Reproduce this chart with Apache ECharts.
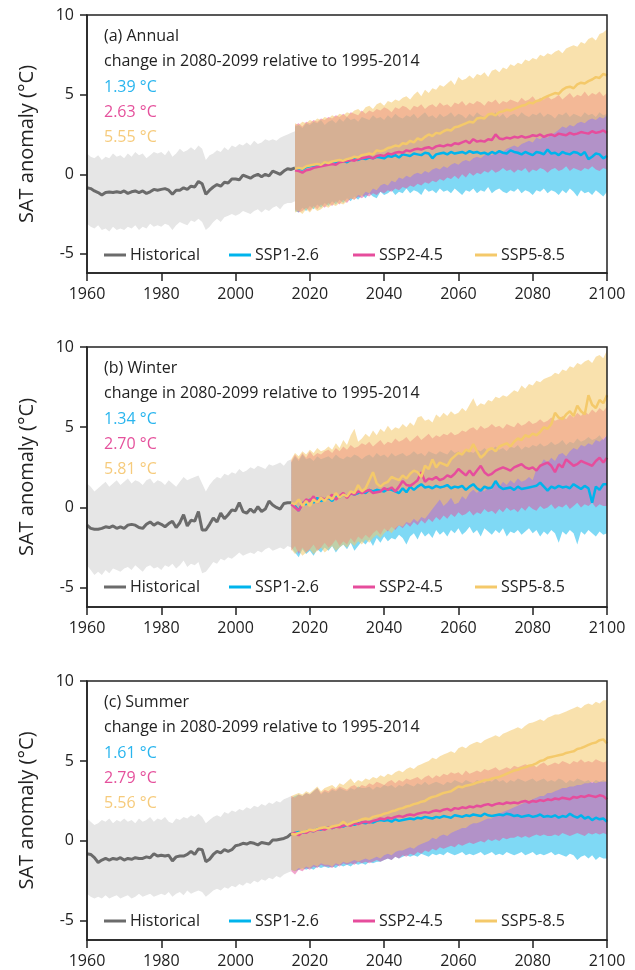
<!DOCTYPE html>
<html><head><meta charset="utf-8">
<script src="https://cdn.jsdelivr.net/npm/echarts@6/dist/echarts.min.js"></script>
<style>html,body{margin:0;padding:0;background:#fff}#c{width:635px;height:970px}</style>
</head><body><div id="c"></div><script>
// ---------- Panel (a) Annual ----------
const histStartA = 1960, sspStartA = 2016;
const histMeanA = [-0.85,-0.9,-1.05,-1.15,-1.3,-1.15,-1.12,-1.15,-1.1,-1.15,
-1.05,-1.2,-1.1,-1.05,-1.15,-1.05,-1.2,-1.1,-0.95,-1.0,
-0.95,-0.9,-1.0,-1.25,-1.0,-1.0,-0.85,-0.95,-0.75,-0.8,
-0.45,-0.6,-1.25,-1.0,-0.8,-0.65,-0.75,-0.5,-0.55,-0.3,
-0.3,-0.35,-0.05,-0.15,-0.25,-0.1,0.0,-0.15,0.0,-0.1,
0.2,0.1,0.0,0.2,0.35,0.3,0.4];
const histUpA = [1.3,1.1,1.0,1.2,0.9,1.1,1.0,1.3,1.1,1.2,
1.0,1.3,1.1,1.4,1.2,1.3,1.0,1.2,1.4,1.3,
1.4,1.2,1.5,1.1,1.3,1.6,1.4,1.5,1.7,1.5,
1.8,1.6,0.9,1.2,1.3,1.5,1.4,1.7,1.5,1.8,
1.7,1.9,1.8,2.0,1.8,2.1,1.9,2.0,2.2,2.1,
2.2,2.1,2.3,2.4,2.5,2.6,2.7];
const histLoA = [-3.1,-3.3,-3.4,-3.2,-3.5,-3.4,-3.6,-3.3,-3.5,-3.4,
-3.5,-3.3,-3.4,-3.2,-3.5,-3.3,-3.4,-3.1,-3.3,-3.2,
-3.3,-3.1,-3.2,-3.5,-3.2,-3.0,-3.1,-3.2,-2.9,-3.0,
-2.8,-3.0,-3.5,-3.3,-3.0,-2.8,-3.0,-2.7,-2.6,-2.5,
-2.6,-2.5,-2.3,-2.4,-2.5,-2.3,-2.2,-2.4,-2.2,-2.3,
-2.1,-2.0,-2.2,-1.9,-1.8,-1.8,-1.7];
const ssp126A = [0.3,0.35,0.3,0.45,0.5,0.55,0.5,0.6,0.7,0.65,
0.75,0.7,0.8,0.85,0.75,0.9,0.95,0.9,1.0,0.95,
1.05,1.0,1.1,1.05,1.0,1.15,1.1,1.2,1.05,1.25,
1.2,1.15,1.3,1.25,1.2,1.35,1.3,1.0,1.25,1.3,
1.35,1.25,1.4,1.3,1.35,1.4,1.3,1.45,1.35,1.4,
1.3,1.35,1.25,1.4,1.3,1.45,1.35,1.3,1.5,1.4,
1.35,1.25,1.4,1.3,1.2,1.4,1.35,1.25,1.55,1.3,
1.35,1.2,1.4,1.3,1.25,1.4,1.35,1.2,1.4,0.95,
1.1,1.3,1.25,1.0,1.15];
const ssp245A = [0.25,0.2,0.1,0.25,0.3,0.4,0.45,0.5,0.55,0.6,
0.65,0.6,0.75,0.8,0.85,0.9,0.85,0.95,1.0,1.05,
1.1,1.0,1.15,1.2,1.15,1.3,1.25,1.35,1.4,1.35,
1.5,1.45,1.55,1.6,1.55,1.65,1.7,1.6,1.75,1.8,
1.75,1.85,1.8,1.95,1.9,2.0,2.1,1.95,2.2,2.05,
2.1,2.05,2.2,2.15,2.5,2.25,2.2,2.3,2.25,2.35,
2.3,2.4,2.3,2.35,2.45,2.4,2.5,2.35,2.45,2.5,
2.4,2.55,2.5,2.45,2.6,2.5,2.55,2.65,2.6,2.55,
2.7,2.6,2.65,2.75,2.6];
const ssp585A = [0.35,0.4,0.35,0.5,0.55,0.6,0.65,0.6,0.75,0.7,
0.8,0.85,0.9,0.85,0.95,1.0,1.1,1.05,1.2,1.25,
1.3,1.25,1.5,1.45,1.5,1.65,1.7,1.8,1.75,1.95,
1.9,2.1,2.0,2.25,2.15,2.35,2.5,2.4,2.6,2.55,
2.7,2.8,2.75,2.95,3.0,3.1,3.2,3.3,3.25,3.5,
3.55,3.5,3.75,3.8,3.7,3.9,3.95,4.05,4.0,4.1,
4.2,4.3,4.35,4.5,4.45,4.6,4.65,4.8,4.9,5.0,
5.1,5.05,5.3,5.45,5.5,5.4,5.65,5.75,5.7,5.85,
5.95,6.1,6.05,6.3,6.2];
const ssp126HiA = [3.0,3.1,2.9,3.2,3.1,3.3,3.2,3.4,3.1,3.3,
3.4,3.2,3.5,3.3,3.6,3.4,3.5,3.3,3.6,3.5,
3.4,3.7,3.5,3.6,3.4,3.7,3.5,3.8,3.6,3.5,
3.7,3.6,3.8,3.5,3.7,3.9,3.6,3.7,3.5,3.8,
3.6,3.7,3.9,3.6,3.8,3.7,3.5,3.8,3.6,3.9,
3.7,3.6,3.8,3.7,3.9,3.6,3.8,3.5,3.7,3.8,
3.6,3.9,3.7,3.6,3.8,3.7,3.9,3.6,3.8,3.7,
3.5,3.8,3.7,3.9,3.6,3.8,3.7,3.6,3.9,3.7,
3.8,3.6,3.9,3.7,3.8];
const ssp126LoA = [-2.3,-2.4,-2.1,-2.3,-2.0,-2.2,-1.9,-2.1,-1.8,-2.0,
-1.7,-1.9,-1.6,-1.8,-1.5,-1.7,-1.4,-1.6,-1.3,-1.5,
-1.2,-1.4,-1.5,-1.1,-1.3,-1.2,-1.0,-1.3,-1.1,-1.2,
-0.9,-1.2,-1.0,-1.1,-1.3,-0.9,-1.1,-1.0,-1.2,-0.9,
-1.1,-1.0,-1.2,-0.9,-1.1,-1.3,-1.0,-1.1,-0.9,-1.2,
-1.0,-1.1,-0.8,-1.2,-1.0,-0.9,-1.1,-1.2,-1.0,-1.1,
-0.9,-1.2,-1.0,-1.1,-1.3,-1.0,-1.1,-0.9,-1.2,-1.0,
-1.1,-1.3,-1.0,-1.2,-0.9,-1.1,-1.4,-1.0,-1.2,-1.1,
-1.3,-1.0,-1.2,-1.4,-1.1];
const ssp245HiA = [3.1,3.2,3.0,3.3,3.2,3.4,3.3,3.5,3.4,3.6,
3.5,3.7,3.6,3.8,3.6,3.9,3.8,3.7,4.0,3.8,
4.0,3.9,4.1,4.0,4.2,4.1,3.9,4.2,4.1,4.3,
4.2,4.0,4.3,4.2,4.4,4.1,4.3,4.4,4.2,4.5,
4.3,4.4,4.2,4.5,4.4,4.6,4.3,4.5,4.4,4.6,
4.5,4.3,4.6,4.5,4.7,4.4,4.6,4.5,4.7,4.6,
4.5,4.8,4.6,4.7,4.9,4.6,4.8,4.7,4.9,4.7,
4.8,5.0,4.7,4.9,5.1,4.8,5.0,4.9,5.2,4.9,
5.1,5.0,5.2,4.9,5.1];
const ssp245LoA = [-2.2,-2.4,-2.3,-2.1,-2.3,-2.0,-2.2,-1.9,-2.1,-1.8,
-2.0,-1.7,-1.9,-1.6,-1.8,-1.5,-1.6,-1.4,-1.5,-1.3,
-1.4,-1.2,-1.3,-1.1,-1.2,-1.0,-1.1,-0.9,-1.0,-0.8,
-0.9,-0.7,-0.8,-0.6,-0.7,-0.5,-0.6,-0.4,-0.5,-0.3,
-0.4,-0.2,-0.3,-0.1,-0.3,0.0,-0.2,0.1,-0.1,0.1,
0.0,0.2,0.1,0.3,0.1,0.2,0.4,0.2,0.3,0.1,
0.3,0.2,0.4,0.1,0.3,0.2,0.4,0.3,0.1,0.3,
0.4,0.2,0.3,0.5,0.2,0.4,0.3,0.2,0.4,0.3,
0.5,0.3,0.2,0.4,0.3];
const ssp585HiA = [3.2,3.1,3.3,3.2,3.4,3.3,3.5,3.4,3.6,3.5,
3.7,3.6,3.8,3.7,3.9,3.8,4.0,4.1,3.9,4.2,
4.3,4.1,4.4,4.5,4.3,4.6,4.5,4.7,4.6,4.8,
4.9,4.7,5.0,5.2,4.9,5.3,5.1,5.4,5.3,5.6,
5.5,5.7,5.9,5.6,6.1,5.9,6.0,6.2,6.0,6.3,
6.2,6.4,6.1,6.5,6.6,6.4,6.7,6.6,6.9,6.8,
7.0,6.9,7.2,7.1,7.3,7.2,7.5,7.4,7.6,7.5,
7.7,7.8,7.6,7.9,8.0,8.1,8.0,8.3,8.2,8.5,
8.6,8.4,8.8,8.9,9.1];
const ssp585LoA = [-2.4,-2.3,-2.5,-2.2,-2.4,-2.1,-2.3,-2.2,-2.0,-2.1,
-1.9,-2.0,-1.8,-1.9,-1.7,-1.5,-1.6,-1.3,-1.4,-1.1,
-1.2,-0.9,-1.0,-0.7,-0.6,-0.7,-0.4,-0.5,-0.2,-0.3,
-0.1,-0.2,0.0,0.1,0.0,0.2,0.1,0.3,0.4,0.3,
0.5,0.4,0.6,0.7,0.6,0.8,0.9,0.8,1.0,1.1,
1.0,1.2,1.3,1.2,1.4,1.5,1.4,1.6,1.7,1.8,
1.7,1.9,2.0,2.1,2.0,2.3,2.2,2.4,2.3,2.5,
2.6,2.8,3.0,2.9,3.1,3.0,3.2,3.3,3.2,3.4,
3.5,3.4,3.6,3.5,3.7];

// ---------- Panel (b) Winter ----------
const histStartB = 1960, sspStartB = 2015;
const histMeanB = [-1.1,-1.3,-1.35,-1.35,-1.3,-1.2,-1.25,-1.15,-1.3,-1.2,
-1.3,-1.1,-1.05,-1.1,-1.25,-1.3,-1.05,-0.9,-1.1,-0.95,
-1.05,-1.2,-1.0,-0.85,-1.25,-0.95,-0.45,-1.15,-0.8,-0.85,
-0.25,-1.4,-1.4,-1.05,-0.65,-0.9,-0.35,-0.7,-0.45,-0.15,
-0.2,0.3,-0.25,-0.35,-0.1,-0.3,0.05,-0.25,-0.1,0.4,
0.15,0.0,-0.1,0.25,0.3,0.3];
const histUpB = [1.5,1.3,1.0,1.2,1.4,1.6,1.3,1.5,1.7,1.4,
1.6,1.8,1.5,1.7,1.6,1.4,1.7,1.8,1.5,1.7,
1.6,1.4,1.7,1.5,1.3,1.6,1.9,1.7,1.8,1.9,
2.0,1.5,1.0,1.4,1.7,1.9,1.8,2.1,2.0,2.2,
2.1,2.4,2.2,2.3,2.5,2.4,2.6,2.5,2.4,2.7,
2.6,2.7,2.8,2.6,2.9,3.0];
const histLoB = [-3.6,-3.9,-4.2,-4.0,-4.2,-3.9,-4.1,-3.8,-3.9,-4.0,
-3.8,-3.7,-3.9,-3.6,-3.8,-4.0,-3.7,-3.6,-3.8,-3.7,
-3.9,-3.6,-3.7,-3.5,-3.8,-3.6,-3.3,-3.7,-3.5,-3.6,
-3.4,-4.1,-4.0,-3.7,-3.4,-3.5,-3.2,-3.3,-3.1,-3.2,
-3.0,-2.8,-3.0,-2.9,-2.8,-2.9,-2.7,-2.8,-2.6,-2.5,
-2.7,-2.6,-2.5,-2.6,-2.4,-2.5];
const ssp126B = [0.3,0.1,-0.2,0.3,0.2,0.5,0.3,0.6,0.4,0.5,
0.6,0.4,0.7,0.6,0.8,0.7,0.9,0.8,0.9,1.0,
0.9,1.1,1.0,1.1,1.05,1.0,1.15,1.1,1.0,0.9,
1.2,0.95,1.3,1.1,1.3,1.45,1.25,1.3,1.2,1.35,
1.25,1.3,1.4,1.2,1.3,1.25,1.35,1.1,1.3,1.45,
1.2,1.05,1.3,1.2,1.25,1.65,1.3,1.15,1.2,1.25,
1.1,1.3,1.15,1.2,1.25,1.3,1.35,1.55,1.3,1.05,
1.3,1.2,1.35,1.25,1.3,1.2,1.45,1.3,1.15,1.35,
1.2,0.3,1.3,1.1,1.45,1.45];
const ssp245B = [0.2,0.0,-0.2,0.2,0.5,0.4,0.7,0.3,0.6,0.5,
0.6,0.8,0.5,0.7,0.9,0.6,0.9,0.8,1.0,0.9,
1.0,1.1,0.9,0.95,1.0,1.2,1.1,1.25,1.0,1.3,
1.65,1.4,1.35,1.5,1.7,2.2,1.6,1.8,1.75,1.9,
1.7,1.8,2.0,1.9,2.1,2.4,2.2,2.0,2.3,2.0,
2.3,2.6,2.2,2.0,2.1,2.3,2.4,2.5,2.4,2.3,
2.5,2.6,2.7,2.5,2.4,2.5,2.3,2.6,2.7,2.8,
2.6,2.2,2.7,2.5,3.0,2.8,2.6,2.7,2.9,2.8,
2.7,2.6,2.9,3.1,2.8,3.1];
const ssp585B = [0.3,0.2,0.5,0.1,0.4,0.1,0.5,0.3,0.6,0.4,
0.7,0.5,0.9,0.6,0.8,0.7,1.0,0.9,1.4,1.0,
1.2,1.7,2.2,1.5,1.3,1.5,1.6,1.9,1.8,1.7,
2.0,1.8,2.1,2.3,2.2,1.9,2.6,2.4,3.0,2.5,
2.8,2.7,2.6,3.0,3.2,3.4,3.3,3.6,3.5,3.95,
3.5,3.1,3.3,3.6,3.7,3.5,3.8,3.9,4.0,3.8,
4.1,4.3,4.2,4.5,4.4,4.6,4.5,4.7,5.0,4.9,
5.2,5.9,5.6,5.5,5.8,6.0,5.7,6.35,6.0,5.8,
7.0,6.4,6.2,6.7,6.5,7.0];
const ssp126HiB = [2.8,3.2,2.9,3.3,3.0,3.1,2.9,3.2,3.0,3.1,
3.2,3.0,3.3,3.1,3.0,3.2,3.1,3.3,3.2,3.0,
3.2,3.3,3.1,3.4,3.2,3.3,3.1,3.4,3.2,3.3,
3.4,3.2,3.3,3.5,3.3,3.4,3.2,3.5,3.4,3.3,
3.5,3.4,3.3,3.6,3.4,3.5,3.3,3.6,3.5,3.4,
3.6,3.5,3.7,3.5,3.6,3.8,3.6,3.7,3.5,3.8,
3.7,3.9,3.6,3.8,3.7,3.9,3.8,4.0,3.8,3.9,
4.1,3.9,4.0,4.2,3.9,4.1,4.0,4.3,4.1,4.2,
4.4,4.2,4.3,4.5,4.2,4.5];
const ssp126LoB = [-2.5,-2.8,-3.1,-2.6,-2.9,-2.7,-3.0,-2.6,-2.8,-2.5,
-2.7,-2.4,-2.8,-2.5,-2.3,-2.6,-2.2,-2.7,-2.4,-2.1,
-2.3,-2.0,-2.4,-1.9,-2.2,-1.8,-2.1,-1.9,-2.0,-1.7,
-1.9,-2.3,-1.8,-1.6,-2.0,-1.5,-1.8,-1.6,-1.9,-1.4,
-1.7,-1.5,-1.8,-1.4,-1.6,-1.3,-1.7,-1.5,-1.2,-1.6,
-1.4,-1.8,-1.3,-1.5,-1.7,-1.4,-1.6,-1.3,-1.8,-1.5,
-1.6,-1.4,-1.7,-1.5,-1.3,-1.6,-1.4,-1.8,-1.5,-1.7,
-1.4,-1.6,-2.2,-1.5,-1.7,-1.4,-1.6,-2.3,-1.5,-1.7,
-1.4,-1.6,-1.8,-1.5,-1.7,-1.6];
const ssp245HiB = [2.9,3.3,3.0,3.4,3.1,3.5,3.2,3.4,3.3,3.5,
3.6,3.4,3.7,3.5,3.8,3.6,3.9,3.7,3.8,4.0,
3.9,4.1,3.8,4.0,4.2,3.9,4.1,4.0,4.3,4.1,
4.2,4.4,4.1,4.3,4.5,4.2,4.4,4.6,4.3,4.5,
4.4,4.6,4.5,4.7,4.5,4.6,4.8,4.7,4.9,5.0,
4.8,5.1,4.9,5.0,5.2,5.0,5.1,4.9,5.2,5.1,
5.0,5.3,5.1,5.2,5.4,5.2,5.3,5.5,5.3,5.4,
5.6,5.4,5.5,5.7,5.5,5.8,5.6,5.9,5.7,6.0,
5.8,6.1,5.9,6.2,6.0,6.3];
const ssp245LoB = [-2.7,-2.4,-2.9,-2.5,-2.8,-2.6,-2.3,-2.7,-2.5,-2.2,
-2.5,-2.3,-2.0,-2.4,-2.1,-2.3,-1.9,-2.2,-1.8,-2.0,
-1.7,-1.9,-1.6,-1.4,-1.7,-1.3,-1.5,-1.2,-1.4,-1.1,
-1.3,-1.0,-1.2,-0.9,-1.1,-0.8,-1.0,-0.7,-0.9,-0.6,
-0.8,-0.5,-0.7,-0.4,-0.6,-0.3,-0.5,-0.4,-0.2,-0.5,
-0.3,-0.4,-0.1,-0.3,-0.2,-0.4,-0.1,-0.3,0.0,-0.2,
-0.1,-0.3,0.0,-0.2,0.1,-0.1,-0.2,0.1,-0.1,0.0,
0.2,-0.1,0.1,0.0,0.2,-0.1,0.1,0.3,0.0,0.2,
0.1,0.3,0.0,0.2,0.1,0.1];
const ssp585HiB = [3.0,3.4,3.2,3.5,3.3,3.6,3.4,3.7,3.5,3.6,
3.8,3.6,4.0,3.7,4.2,3.9,4.5,4.9,4.1,4.3,
4.6,4.4,4.8,4.5,4.9,4.7,5.1,4.8,5.0,4.9,
5.2,5.0,5.3,5.1,5.6,5.7,5.4,5.5,5.3,5.8,
5.6,5.9,5.7,6.0,5.8,5.9,6.2,6.0,6.4,6.8,
6.3,6.5,6.4,6.7,6.6,6.9,6.8,7.0,6.9,7.1,
7.3,7.2,7.6,7.4,7.7,7.6,7.9,7.8,8.0,8.1,
8.2,8.4,8.3,8.6,8.5,8.8,8.7,9.0,8.9,9.1,
9.2,9.0,9.4,9.5,9.3,9.8];
const ssp585LoB = [-2.6,-2.9,-2.7,-3.0,-2.8,-2.6,-2.9,-2.7,-2.5,-2.8,
-2.6,-2.4,-2.7,-2.5,-2.3,-2.5,-2.2,-2.4,-2.1,-2.3,
-2.0,-2.2,-1.9,-1.7,-1.9,-1.6,-1.4,-1.6,-1.3,-1.1,
-1.2,-0.9,-1.0,-0.7,-0.9,-0.6,-0.7,-0.4,-0.1,0.2,
0.5,0.1,0.3,0.6,0.2,0.3,0.7,0.5,0.9,1.1,
0.9,1.2,1.0,1.3,1.1,1.5,1.3,1.6,1.4,1.7,
1.5,1.8,1.6,1.7,1.9,1.7,2.4,2.6,3.0,2.8,
3.1,2.9,3.3,3.4,3.2,3.5,3.7,3.6,3.9,3.8,
4.0,3.9,4.2,4.1,4.3,4.5];

// ---------- Panel (c) Summer ----------
const histStartC = 1960, sspStartC = 2015;
const histMeanC = [-0.8,-0.85,-1.05,-1.35,-1.2,-1.1,-1.2,-1.1,-1.15,-1.05,
-1.2,-1.1,-1.15,-1.05,-1.1,-1.1,-1.0,-1.05,-0.8,-0.95,
-0.9,-0.95,-0.9,-1.25,-1.0,-0.95,-0.95,-0.85,-0.65,-0.85,
-0.5,-0.55,-1.3,-1.15,-0.85,-0.65,-0.75,-0.55,-0.65,-0.55,
-0.3,-0.25,-0.15,-0.2,-0.1,-0.15,-0.25,-0.1,-0.15,-0.2,
0.05,0.05,0.1,0.15,0.25,0.45];
const histUpC = [1.4,1.2,1.0,1.1,1.3,1.2,1.4,1.1,1.3,1.2,
1.4,1.2,1.3,1.1,1.4,1.2,1.3,1.5,1.2,1.4,
1.3,1.5,1.2,1.1,1.4,1.3,1.5,1.4,1.6,1.5,
1.7,1.5,1.1,1.3,1.5,1.6,1.5,1.8,1.7,1.9,
1.8,2.0,1.9,2.1,2.0,2.2,2.1,2.3,2.2,2.4,
2.3,2.5,2.4,2.6,2.7,2.8];
const histLoC = [-3.3,-3.5,-3.6,-3.5,-3.6,-3.4,-3.6,-3.5,-3.4,-3.6,
-3.5,-3.4,-3.6,-3.5,-3.3,-3.5,-3.4,-3.3,-3.5,-3.4,
-3.3,-3.4,-3.2,-3.5,-3.3,-3.2,-3.4,-3.1,-3.3,-3.2,
-3.1,-3.2,-3.5,-3.3,-3.1,-3.0,-3.1,-2.9,-3.0,-2.8,
-2.9,-2.7,-2.8,-2.6,-2.7,-2.5,-2.6,-2.4,-2.5,-2.3,
-2.4,-2.2,-2.3,-2.1,-2.0,-1.9];
const ssp126C = [0.45,0.5,0.55,0.5,0.6,0.65,0.6,0.75,0.7,0.8,
0.85,0.8,0.9,0.95,0.9,1.0,1.05,1.0,1.1,1.15,
1.1,1.2,1.15,1.25,1.3,1.25,1.3,1.2,1.35,1.25,
1.3,1.35,1.4,1.35,1.45,1.4,1.5,1.45,1.4,1.5,
1.45,1.55,1.5,1.45,1.6,1.55,1.5,1.6,1.55,1.65,
1.6,1.55,1.7,1.6,1.55,1.6,1.65,1.6,1.7,1.65,
1.55,1.6,1.5,1.55,1.6,1.5,1.55,1.65,1.5,1.55,
1.5,1.6,1.45,1.55,1.5,1.7,1.55,1.45,1.6,1.4,
1.5,1.3,1.45,1.35,1.4,1.2];
const ssp245C = [0.45,0.5,0.35,0.55,0.5,0.65,0.6,0.7,0.75,0.7,
0.85,0.8,0.9,0.85,0.95,1.0,0.95,1.1,1.05,1.15,
1.2,1.15,1.25,1.3,1.4,1.35,1.45,1.4,1.5,1.55,
1.5,1.6,1.65,1.6,1.7,1.75,1.8,1.75,1.85,1.9,
1.85,1.95,2.0,1.9,2.05,2.0,2.1,2.05,2.15,2.1,
2.2,2.15,2.25,2.3,2.2,2.3,2.35,2.3,2.4,2.35,
2.4,2.35,2.45,2.5,2.4,2.5,2.45,2.55,2.5,2.6,
2.55,2.65,2.6,2.7,2.65,2.6,2.75,2.7,2.8,2.75,
2.85,2.8,2.75,2.85,2.8,2.6];
const ssp585C = [0.45,0.4,0.5,0.55,0.6,0.7,0.65,0.75,0.8,0.85,
0.8,0.9,0.95,1.0,1.2,1.0,1.1,1.2,1.25,1.35,
1.4,1.35,1.5,1.55,1.6,1.7,1.75,1.85,1.9,2.0,
2.05,2.15,2.2,2.3,2.35,2.45,2.5,2.65,2.75,2.8,
2.9,3.0,3.05,3.1,3.25,3.4,3.35,3.45,3.5,3.55,
3.65,3.7,3.8,3.8,3.9,3.95,4.0,4.1,4.2,4.3,
4.4,4.45,4.55,4.6,4.7,4.75,4.85,5.0,5.05,5.2,
5.25,5.3,5.35,5.4,5.5,5.55,5.6,5.75,5.8,5.9,
6.0,6.1,6.15,6.3,6.35,6.1];
const ssp126HiC = [2.7,2.8,2.9,2.8,3.0,2.9,3.1,3.3,2.9,3.1,
3.0,3.2,3.1,3.3,3.2,3.1,3.3,3.2,3.4,3.3,
3.3,3.4,3.2,3.4,3.3,3.5,3.4,3.5,3.3,3.5,
3.4,3.6,3.5,3.4,3.6,3.5,3.7,3.5,3.6,3.7,
3.6,3.5,3.7,3.6,3.8,3.7,3.6,3.8,3.7,3.6,
3.8,3.7,3.6,3.8,3.7,3.9,3.7,3.8,3.6,3.8,
3.7,3.9,3.8,3.7,3.8,3.9,3.7,3.8,3.9,3.7,
3.8,3.7,3.9,3.8,3.6,3.8,3.7,3.9,3.8,3.7,
3.8,3.6,3.8,3.7,3.8,3.7];
const ssp126LoC = [-1.8,-1.9,-1.8,-1.7,-1.8,-1.7,-1.8,-1.6,-1.7,-1.6,
-1.7,-1.6,-1.7,-1.5,-1.6,-1.5,-1.6,-1.4,-1.5,-1.4,
-1.5,-1.3,-1.4,-1.3,-1.3,-1.2,-1.1,-1.2,-1.0,-1.1,
-1.0,-0.9,-1.0,-0.9,-1.0,-0.8,-0.9,-1.0,-0.8,-0.9,
-0.8,-0.9,-0.7,-0.8,-0.9,-0.8,-0.7,-0.9,-0.8,-0.9,
-0.8,-0.7,-0.9,-0.8,-0.7,-0.9,-0.8,-0.9,-0.7,-0.8,
-0.9,-0.8,-0.7,-0.9,-0.8,-0.7,-0.9,-0.8,-0.9,-0.8,
-0.7,-0.9,-0.8,-0.9,-1.0,-0.8,-0.9,-1.2,-1.0,-0.9,
-1.1,-0.9,-1.2,-1.0,-1.1,-1.1];
const ssp245HiC = [2.8,2.7,2.9,2.8,3.0,2.9,3.1,3.3,3.0,3.2,
3.1,3.3,3.2,3.4,3.3,3.2,3.4,3.5,3.3,3.5,
3.4,3.6,3.5,3.7,3.6,3.5,3.7,3.8,3.6,3.8,
3.7,3.9,3.8,3.9,4.0,3.8,4.0,4.1,3.9,4.1,
4.0,4.2,4.1,4.3,4.2,4.3,4.1,4.4,4.2,4.3,
4.4,4.3,4.5,4.4,4.5,4.6,4.4,4.5,4.6,4.5,
4.7,4.6,4.7,4.8,4.7,4.8,4.6,4.8,4.9,4.7,
4.8,4.9,4.8,5.0,4.9,4.8,5.0,4.9,5.1,4.9,
5.0,4.9,5.1,5.0,4.9,5.0];
const ssp245LoC = [-1.9,-2.1,-1.8,-1.9,-1.7,-1.8,-1.6,-1.7,-1.5,-1.6,
-1.6,-1.7,-1.5,-1.6,-1.4,-1.5,-1.4,-1.5,-1.3,-1.4,
-1.3,-1.4,-1.3,-1.2,-1.3,-1.2,-1.1,-1.2,-1.0,-1.1,
-0.9,-1.0,-0.8,-0.9,-0.7,-0.8,-0.6,-0.7,-0.5,-0.6,
-0.4,-0.5,-0.4,-0.3,-0.4,-0.2,-0.3,-0.2,-0.1,-0.2,
-0.1,0.0,-0.1,0.1,0.0,0.1,0.0,0.2,0.1,0.2,
0.2,0.3,0.2,0.3,0.2,0.3,0.4,0.3,0.4,0.3,
0.3,0.4,0.3,0.5,0.4,0.3,0.4,0.5,0.4,0.3,
0.5,0.4,0.5,0.4,0.5,0.4];
const ssp585HiC = [2.8,2.9,3.0,2.9,3.1,3.0,3.2,3.4,3.1,3.3,
3.4,3.5,3.3,3.6,3.5,3.7,3.9,3.6,3.8,3.7,
3.9,3.8,4.0,3.9,4.1,4.0,4.2,4.1,4.3,4.4,
4.3,4.5,4.6,4.5,4.7,4.8,4.9,5.0,5.2,5.1,
5.3,5.4,5.5,5.6,5.5,5.8,5.9,5.8,6.0,6.1,
6.2,6.1,6.3,6.4,6.5,6.6,6.5,6.7,6.8,6.9,
7.0,7.1,7.0,7.2,7.35,7.4,7.5,7.6,7.5,7.7,
7.8,7.9,7.9,8.0,8.1,8.2,8.3,8.4,8.3,8.5,
8.6,8.5,8.7,8.6,8.8,8.8];
const ssp585LoC = [-1.8,-1.9,-1.7,-1.8,-1.6,-1.7,-1.5,-1.6,-1.4,-1.5,
-1.5,-1.6,-1.4,-1.5,-1.3,-1.4,-1.3,-1.2,-1.3,-1.2,
-1.1,-1.2,-1.1,-1.0,-1.1,-0.9,-0.8,-0.9,-0.7,-0.6,
-0.6,-0.5,-0.4,-0.5,-0.3,-0.2,-0.1,0.0,0.2,0.1,
0.3,0.4,0.3,0.5,0.6,0.7,0.8,0.8,1.0,1.1,
1.1,1.2,1.3,1.4,1.4,1.6,1.7,1.8,1.9,2.0,
2.1,2.2,2.3,2.4,2.5,2.6,2.7,2.8,2.8,3.0,
3.0,3.1,3.2,3.3,3.3,3.4,3.4,3.5,3.5,3.6,
3.6,3.7,3.6,3.7,3.7,3.7];

// ---------- labels ----------
const panelTitles = ['(a) Annual', '(b) Winter', '(c) Summer'];
const subtitle = 'change in 2080-2099 relative to 1995-2014';
const changeLabelsA = ['1.39 °C', '2.63 °C', '5.55 °C'];
const changeLabelsB = ['1.34 °C', '2.70 °C', '5.81 °C'];
const changeLabelsC = ['1.61 °C', '2.79 °C', '5.56 °C'];
const seriesNames = ['Historical', 'SSP1-2.6', 'SSP2-4.5', 'SSP5-8.5'];
const yTickValues = [-5, 0, 5, 10];
const yAxisTitle = 'SAT anomaly (°C)';

// ---------- styling ----------
const FONT = '"Open Sans", "Noto Sans", sans-serif';
const INK = '#222222';
const lineColors = ['#6b6b6b', '#00b4ec', '#e64d9c', '#f4c96a'];
const bandFills = ['#e6e6e6', 'rgba(0,180,236,0.5)', 'rgba(229,76,156,0.5)', 'rgba(244,201,106,0.55)'];
const textColors = ['#29b5ee', '#e5519c', '#f6cb7c'];
const gridTops = [15, 347, 681];
const gridHeights = [258, 260, 259];
const legendXs = [104, 229, 353, 475];

const panels = [
  {hs: histStartA, ss: sspStartA, hm: histMeanA, hu: histUpA, hl: histLoA,
   m: [ssp126A, ssp245A, ssp585A], lo: [ssp126LoA, ssp245LoA, ssp585LoA], hi: [ssp126HiA, ssp245HiA, ssp585HiA], labels: changeLabelsA},
  {hs: histStartB, ss: sspStartB, hm: histMeanB, hu: histUpB, hl: histLoB,
   m: [ssp126B, ssp245B, ssp585B], lo: [ssp126LoB, ssp245LoB, ssp585LoB], hi: [ssp126HiB, ssp245HiB, ssp585HiB], labels: changeLabelsB},
  {hs: histStartC, ss: sspStartC, hm: histMeanC, hu: histUpC, hl: histLoC,
   m: [ssp126C, ssp245C, ssp585C], lo: [ssp126LoC, ssp245LoC, ssp585LoC], hi: [ssp126HiC, ssp245HiC, ssp585HiC], labels: changeLabelsC}
];

function pairs(start, vals) { return vals.map((v, i) => [start + i, v]); }
function bandData(start, lo, hi) { return lo.map((v, i) => [start + i, v, hi[i]]); }

function bandSeries(gi, start, lo, hi, fill, id) {
  const data = bandData(start, lo, hi);
  return {
    type: 'custom', id: id, name: id, xAxisIndex: gi, yAxisIndex: gi, silent: true,
    data: data, encode: {x: 0, y: [1, 2]},
    renderItem: function (params, api) {
      if (params.dataIndex !== 0) return null;
      const top = data.map(d => api.coord([d[0], d[2]]));
      const bot = data.map(d => api.coord([d[0], d[1]])).reverse();
      return {type: 'polygon', shape: {points: top.concat(bot)}, style: {fill: fill}};
    }
  };
}

const grids = [], xAxes = [], yAxes = [], series = [], legends = [], graphics = [];
panels.forEach((p, gi) => {
  grids.push({left: 87, width: 520, top: gridTops[gi], height: gridHeights[gi],
    show: true, borderColor: INK, borderWidth: 1.5, backgroundColor: 'transparent', z: 10});
  xAxes.push({gridIndex: gi, type: 'value', min: 1960, max: 2100, interval: 20, z: 10,
    axisLine: {show: true, onZero: false, lineStyle: {color: INK, width: 1.5}},
    axisTick: {show: true, length: 8, lineStyle: {color: INK, width: 1.5}},
    axisLabel: {fontSize: 16, color: INK, fontFamily: FONT, margin: 13, formatter: v => String(v)},
    splitLine: {show: false}});
  yAxes.push({gridIndex: gi, type: 'value', min: -6.2, max: 10, z: 10,
    name: yAxisTitle, nameLocation: 'middle', nameGap: 50,
    nameTextStyle: {fontSize: 20, color: INK, fontFamily: FONT},
    axisLine: {show: true, lineStyle: {color: INK, width: 1.5}},
    axisTick: {show: true, length: 7, customValues: yTickValues, lineStyle: {color: INK, width: 1.5}},
    axisLabel: {fontSize: 16, color: INK, fontFamily: FONT, margin: 13, customValues: yTickValues, formatter: v => String(v)},
    splitLine: {show: false}});

  series.push(bandSeries(gi, p.hs, p.hl, p.hu, bandFills[0], 'histband' + gi));
  for (let k = 0; k < 3; k++) series.push(bandSeries(gi, p.ss, p.lo[k], p.hi[k], bandFills[k + 1], 'band' + k + '_' + gi));
  series.push({type: 'line', name: seriesNames[0], xAxisIndex: gi, yAxisIndex: gi, data: pairs(p.hs, p.hm),
    showSymbol: false, symbol: 'none', color: lineColors[0], lineStyle: {color: lineColors[0], width: 3}, silent: true, animation: false});
  for (let k = 0; k < 3; k++) series.push({type: 'line', name: seriesNames[k + 1], xAxisIndex: gi, yAxisIndex: gi,
    data: pairs(p.ss, p.m[k]), showSymbol: false, symbol: 'none', color: lineColors[k + 1],
    lineStyle: {color: lineColors[k + 1], width: 2.5}, silent: true, animation: false});

  const top = gridTops[gi];
  seriesNames.forEach((nm, k) => legends.push({
    data: [nm], left: legendXs[k], top: top + 230, padding: 0, selectedMode: false,
    icon: 'rect', itemWidth: 22, itemHeight: 3, itemGap: 0,
    textStyle: {fontSize: 16, color: INK, fontFamily: FONT, lineHeight: 20, padding: [0, 0, 0, -1]}
  }));

  graphics.push({type: 'text', x: 104, y: top + 21, style: {text: panelTitles[gi], fill: INK, font: '16px ' + FONT, verticalAlign: 'middle'}});
  graphics.push({type: 'text', x: 104, y: top + 46, style: {text: subtitle, fill: INK, font: '16px ' + FONT, verticalAlign: 'middle'}});
  p.labels.forEach((t, k) => graphics.push({type: 'text', x: 104, y: top + 72 + k * 25,
    style: {text: t, fill: textColors[k], font: '16px ' + FONT, verticalAlign: 'middle'}}));
});

const chart = echarts.init(document.getElementById('c'), null, {renderer: 'canvas'});
chart.setOption({
  animation: false,
  backgroundColor: '#ffffff',
  grid: grids, xAxis: xAxes, yAxis: yAxes,
  legend: legends, series: series, graphic: graphics
});
</script></body></html>
